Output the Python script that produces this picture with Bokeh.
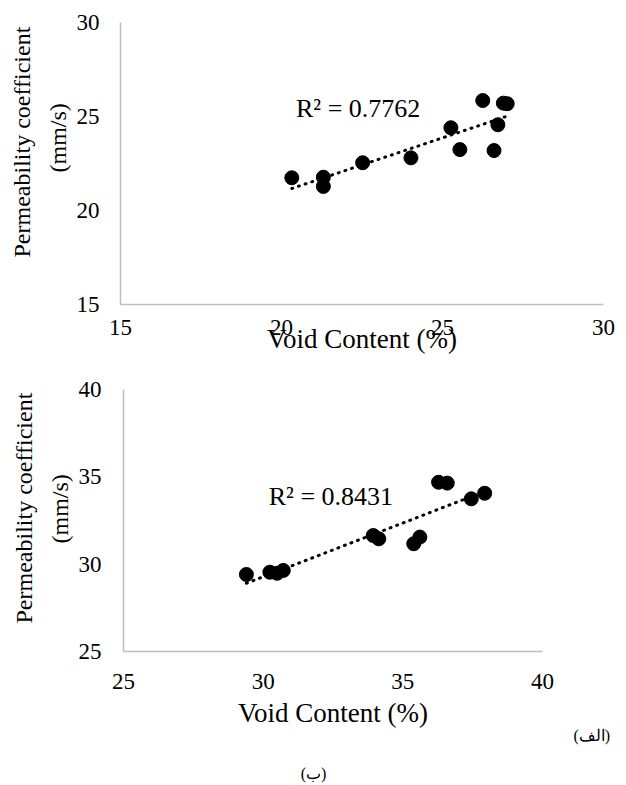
import numpy as np
from bokeh.plotting import figure
from bokeh.models import Range1d, FixedTicker, Label, Title
from bokeh.embed import file_html
from bokeh.resources import INLINE

# ---- data ----
void_a = [20.32, 21.30, 21.30, 22.52, 24.02, 25.26, 25.54, 26.25, 26.89, 27.01, 26.72, 26.60]
perm_a = [21.74, 21.77, 21.28, 22.54, 22.80, 24.40, 23.24, 25.85, 25.71, 25.68, 24.56, 23.19]
ticks_a = [15, 20, 25, 30]
r2_a = "R² = 0.7762"

void_b = [29.40, 30.24, 30.50, 30.72, 33.94, 34.14, 35.39, 35.61, 36.28, 36.59, 37.45, 37.93]
perm_b = [29.41, 29.54, 29.48, 29.64, 31.64, 31.45, 31.17, 31.55, 34.69, 34.64, 33.74, 34.06]
ticks_b = [25, 30, 35, 40]
r2_b = "R² = 0.8431"

x_title = "Void Content (%)"
y_title_1 = "Permeability coefficient"
y_title_2 = "(mm/s)"
tag_a = "(الف)"
tag_b = "(ب)"

FONT = "Liberation Serif"
AXIS_GRAY = "#bfbfbf"


def make_fig(xs, ys, ticks, width, height, mbl, mbr, mbt, mbb, xstand, ystand, title_stand):
    lo, hi = ticks[0], ticks[-1]
    p = figure(width=width, height=height, output_backend="svg", toolbar_location=None,
               x_range=Range1d(lo, hi), y_range=Range1d(lo, hi),
               min_border_left=mbl, min_border_right=mbr,
               min_border_top=mbt, min_border_bottom=mbb)
    p.outline_line_color = None
    p.xgrid.visible = False
    p.ygrid.visible = False
    for ax in (p.xaxis, p.yaxis):
        ax.ticker = FixedTicker(ticks=ticks)
        ax.axis_line_color = AXIS_GRAY
        ax.axis_line_width = 1.5
        ax.major_tick_line_color = None
        ax.minor_tick_line_color = None
        ax.major_tick_out = 0
        ax.major_tick_in = 0
        ax.minor_tick_out = 0
        ax.major_label_text_font = FONT
        ax.major_label_text_font_size = "23px"
        ax.major_label_text_color = "black"
    p.xaxis.major_label_standoff = xstand
    p.yaxis.major_label_standoff = ystand
    p.xaxis.axis_label = x_title
    p.xaxis.axis_label_text_font = FONT
    p.xaxis.axis_label_text_font_size = "27px"
    p.xaxis.axis_label_text_font_style = "normal"
    p.xaxis.axis_label_text_color = "black"
    p.xaxis.axis_label_standoff = title_stand

    # trendline from linear regression of the data
    k, b = np.polyfit(xs, ys, 1)
    tx = np.array([min(xs), max(xs)])
    p.line(tx, k * tx + b, line_color="black", line_width=3, line_dash="1 6", line_cap="round")
    p.scatter(xs, ys, size=14, color="black")
    return p


def side_title(p, text, place, size, offset, standoff, align="left"):
    p.add_layout(Title(text=text, align=align, offset=offset, standoff=standoff,
                       text_font=FONT, text_font_size=size, text_font_style="normal",
                       text_color="black"), place)


def r2_label(p, x, y, text):
    p.add_layout(Label(x=x, y=y, text=text, text_align="left", text_baseline="alphabetic",
                       text_font=FONT, text_font_size="26px", text_color="black"))


# ---- chart (a) ----
pa = make_fig(void_a, perm_a, ticks_a, 626, 370, 119, 23, 22, 66, 15, 21, -14)
side_title(pa, y_title_2, "left", "24px", 132, 5)
side_title(pa, y_title_1, "left", "24px", 47, 12)
r2_label(pa, 20.45, 25.44, r2_a)

# ---- chart (b) ----
pb = make_fig(void_b, perm_b, ticks_b, 626, 381, 123, 84, 19, 100, 22, 22, 6)
side_title(pb, y_title_2, "left", "24px", 108, 5)
side_title(pb, y_title_1, "left", "24px", 28, 12)
side_title(pb, tag_a, "below", "16px", 450, -26)
r2_label(pb, 30.2, 33.9, r2_b)

# ---- caption strip under chart (b) ----
pc = figure(width=626, height=34, output_backend="svg", toolbar_location=None,
            x_range=Range1d(0, 626), y_range=Range1d(0, 34),
            x_axis_location=None, y_axis_location=None,
            min_border_left=0, min_border_right=0, min_border_top=0, min_border_bottom=0)
pc.outline_line_color = None
pc.grid.visible = False
pc.add_layout(Label(x=313, y=12, text=tag_b, text_align="center", text_baseline="middle",
                    text_font=FONT, text_font_size="16px", text_color="black"))

open("out.html", "w").write(file_html([pa, pb, pc], INLINE))
